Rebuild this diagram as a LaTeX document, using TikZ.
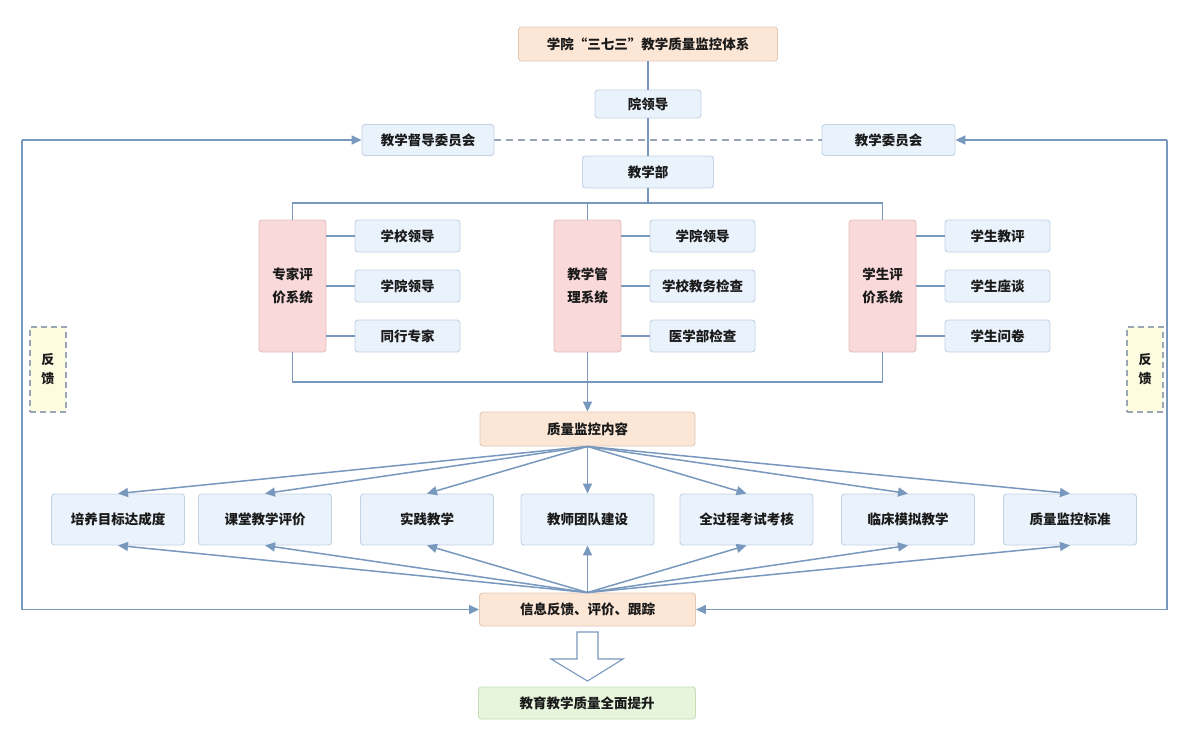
\documentclass[tikz,border=0pt]{standalone}
\usepackage{fontspec}
\setmainfont{Noto Sans CJK SC}
\usetikzlibrary{arrows.meta}
\definecolor{bbf}{HTML}{EAF2FB}
\definecolor{bbd}{HTML}{C3D3E6}
\definecolor{pkf}{HTML}{F9D9D9}
\definecolor{pkd}{HTML}{E5BEBE}
\definecolor{orf}{HTML}{FCE6D6}
\definecolor{ord}{HTML}{E3C9B5}
\definecolor{grf}{HTML}{E7F5DD}
\definecolor{grd}{HTML}{C8DDB8}
\definecolor{lnc}{HTML}{7898BE}
\definecolor{yef}{HTML}{FDFBE0}
\definecolor{dgc}{HTML}{9AA6B4}
\definecolor{txc}{HTML}{1A1A1A}
\newcommand{\fs}{\fontsize{13.5}{23}\selectfont\bfseries}
\begin{document}
\begin{tikzpicture}[x=1pt,y=-1pt,
  box/.style={draw=bbd, fill=bbf, rounded corners=3pt, line width=0.9pt, inner sep=0pt,
    font=\fs, text=txc, align=center, minimum width=105pt, minimum height=32pt},
  sysbox/.style={box, draw=pkd, fill=pkf, minimum width=67pt, minimum height=132pt},
  orbox/.style={box, draw=ord, fill=orf},
  grbox/.style={box, draw=grd, fill=grf},
  cbox/.style={box, minimum width=133pt, minimum height=51pt},
  fbbox/.style={draw=dgc, fill=yef, dashed, dash pattern=on 6pt off 4pt, line width=1.1pt,
    minimum width=36pt, minimum height=85pt, inner sep=0pt, align=center,
    font=\fontsize{13}{19}\selectfont\bfseries, text=txc},
  ln/.style={draw=lnc, line width=1.5pt},
  arr/.style={ln, -{Triangle[length=10pt,width=9pt]}, color=lnc},
  dl/.style={draw=dgc, line width=1.5pt, dash pattern=on 7pt off 5pt}]
\useasboundingbox (0,0) rectangle (1192,747);
\fill[white] (0,0) rectangle (1192,747);

% top
\node[orbox, minimum width=259pt, minimum height=34pt] (title) at (648,44) {学院“三七三”教学质量监控体系};
\node[box, minimum width=106pt, minimum height=28pt] (yld) at (648,104) {院领导};
\node[box, minimum width=132pt, minimum height=31pt] (dudao) at (428,140) {教学督导委员会};
\node[box, minimum width=133pt, minimum height=31pt] (wyh) at (888.5,140) {教学委员会};
\node[box, minimum width=131pt, minimum height=32pt] (jxb) at (648,172) {教学部};

% systems
\node[sysbox] (s1) at (292.5,286) {专家评\\价系统};
\node[sysbox] (s2) at (587.5,286) {教学管\\理系统};
\node[sysbox] (s3) at (882.5,286) {学生评\\价系统};

\node[box] (a1) at (407.5,236) {学校领导};
\node[box] (a2) at (407.5,286) {学院领导};
\node[box] (a3) at (407.5,336) {同行专家};
\node[box] (b1) at (702.5,236) {学院领导};
\node[box] (b2) at (702.5,286) {学校教务检查};
\node[box] (b3) at (702.5,336) {医学部检查};
\node[box] (d1) at (997.5,236) {学生教评};
\node[box] (d2) at (997.5,286) {学生座谈};
\node[box] (d3) at (997.5,336) {学生问卷};

% quality content
\node[orbox, minimum width=215pt, minimum height=34pt] (zl) at (587.5,429) {质量监控内容};

\node[cbox] (c1) at (118,519.5) {培养目标达成度};
\node[cbox] (c2) at (265,519.5) {课堂教学评价};
\node[cbox] (c3) at (427,519.5) {实践教学};
\node[cbox] (c4) at (587.5,519.5) {教师团队建设};
\node[cbox] (c5) at (746.5,519.5) {全过程考试考核};
\node[cbox] (c6) at (908,519.5) {临床模拟教学};
\node[cbox] (c7) at (1070,519.5) {质量监控标准};

\node[orbox, minimum width=216pt, minimum height=33pt] (xx) at (587.5,609.5) {信息反馈、评价、跟踪};
\node[grbox, minimum width=217pt, minimum height=32pt] (ts) at (587,703) {教育教学质量全面提升};

% feedback boxes
\node[fbbox] (fb1) at (48,369.5) {反\\馈};
\node[fbbox] (fb2) at (1145,369.5) {反\\馈};

% connectors top
\draw[ln] (title.south) -- (yld.north);
\draw[dl] (dudao.east) -- (wyh.west);
\draw[ln] (yld.south) -- (jxb.north);
\coordinate (tb) at (648,203);
\draw[ln] (jxb.south) -- (tb);
\draw[ln] (s1.north) -- (s1.north |- tb) -- (s3.north |- tb) -- (s3.north);
\draw[ln] (s2.north) -- (s2.north |- tb);

\foreach \s/\a in {s1/a1,s1/a2,s1/a3,s2/b1,s2/b2,s2/b3,s3/d1,s3/d2,s3/d3}
  \draw[ln] (\s.east |- \a) -- (\a.west);

\coordinate (bb) at (587.5,382);
\draw[ln] (s1.south) -- (s1.south |- bb) -- (s3.south |- bb) -- (s3.south);
\draw[arr] (s2.south) -- (zl.north);

% fan arrows
\foreach \i in {1,...,7} {
  \draw[arr] (zl.south) -- (c\i.north);
  \draw[arr] (xx.north) -- (c\i.south);
}

% feedback loop
\coordinate (lt) at (22,140);
\coordinate (lb) at (22,609.5);
\coordinate (rt) at (1167,140);
\coordinate (rb) at (1167,609.5);
\draw[arr] (lt) -- (dudao.west);
\draw[arr] (lt) -- (lb) -- (xx.west);
\draw[arr] (rt) -- (wyh.east);
\draw[arr] (rt) -- (rb) -- (xx.east);

% hollow arrow
\draw[draw=lnc, fill=white, line width=1.1pt, line join=miter]
  (577,632) -- (598,632) -- (598,659) -- (623,659) -- (587.5,681) -- (551,659) -- (577,659) -- cycle;
\end{tikzpicture}
\end{document}
